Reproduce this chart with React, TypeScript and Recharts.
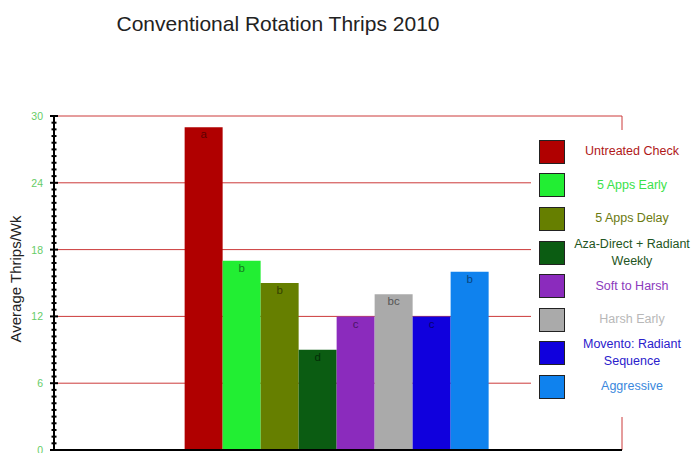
import React from "react"
import {
  BarChart,
  Bar,
  XAxis,
  YAxis,
  CartesianGrid,
  Legend,
  LabelList,
} from "recharts"

// treatments, weekly thrips counts and mean-separation letters
const treatments = [
  "Untreated Check",
  "5 Apps Early",
  "5 Apps Delay",
  "Aza-Direct + Radiant\nWeekly",
  "Soft to Harsh",
  "Harsh Early",
  "Movento: Radiant\nSequence",
  "Aggressive",
]
const thripsPerWeek = [29, 17, 15, 9, 12, 14, 12, 16]
const letters = ["a", "b", "b", "d", "c", "bc", "c", "b"]
const majorTicks = [0, 6, 12, 18, 24, 30]
const minorStep = 0.6

const barColors = ["#b00000", "#22ee33", "#667f00", "#0b5c12", "#8b2bbd", "#aaaaaa", "#1000dd", "#0f82ee"]
const letterColors = ["#5e0000", "#127a1c", "#333f00", "#032d06", "#4a1568", "#555555", "#07006e", "#07447c"]
const legendTextColors = ["#b01818", "#3be24a", "#6b7a10", "#1e5522", "#8b3bbd", "#b8b8b8", "#2a20cc", "#3a88dd"]

const keys = treatments.map((_, i) => `t${i}`)
const row: Record<string, string | number> = { name: "2010" }
keys.forEach((k, i) => {
  row[k] = thripsPerWeek[i]
})
const chartData = [row]

const yTicks = Array.from({ length: Math.round(30 / minorStep) + 1 }, (_, i) => Math.round(i * minorStep * 10) / 10)

const FONT = "'Liberation Sans', Arial, sans-serif"

function YTick(props: any) {
  const { x, y, payload } = props
  const major = majorTicks.includes(payload.value)
  const half = major ? 4 : 2.5
  return (
    <g>
      <line x1={x - half} x2={x + half} y1={y} y2={y} stroke="#000" strokeWidth={2} />
      {major && (
        <text x={x - 11} y={y} dy={4} textAnchor="end" fill="#66cc66" fontSize={10.5} fontFamily={FONT}>
          {payload.value}
        </text>
      )}
    </g>
  )
}

function YLabel(props: any) {
  const { viewBox } = props
  const cx = viewBox.x + 15
  const cy = viewBox.y + viewBox.height / 2 - 4
  return (
    <text
      x={cx}
      y={cy}
      transform={`rotate(-90, ${cx}, ${cy})`}
      textAnchor="middle"
      dominantBaseline="central"
      fontSize={15}
      fill="#222"
      fontFamily={FONT}
    >
      Average Thrips/Wk
    </text>
  )
}

// legend keeps the series order rather than sorting by name
function LegendBox() {
  return (
    <div style={{ background: "#fff", padding: "5px 0 13px 8px", fontFamily: FONT }}>
      {treatments.map((name, i) => (
        <div key={name} style={{ display: "flex", alignItems: "center", height: 33.6 }}>
          <div
            style={{
              width: 24,
              height: 22,
              background: barColors[i],
              border: "1px solid #222",
              flexShrink: 0,
            }}
          />
          <div
            style={{
              marginLeft: 6,
              width: 122,
              textAlign: "center",
              fontSize: 12.5,
              lineHeight: "17px",
              whiteSpace: "pre-line",
              color: legendTextColors[i],
            }}
          >
            {name}
          </div>
        </div>
      ))}
    </div>
  )
}

export default function App() {
  return (
    <div style={{ position: "absolute", left: 0, top: 0, width: 693, height: 453, background: "#fff" }}>
      <div
        style={{
          position: "absolute",
          left: 0,
          top: 12,
          width: 556,
          textAlign: "center",
          fontFamily: FONT,
          fontSize: 21,
          lineHeight: "24px",
          color: "#222",
        }}
      >
        Conventional Rotation Thrips 2010
      </div>
      <div style={{ position: "absolute", left: 0, top: 0 }}>
        <BarChart
          width={693}
          height={453}
          data={chartData}
          margin={{ top: 116, right: 71, bottom: 2, left: 0 }}
          barCategoryGap="23%"
          barGap={0}
        >
          <CartesianGrid
            horizontalValues={[6, 12, 18, 24, 30]}
            verticalCoordinatesGenerator={({ offset }: any) => [offset.left + offset.width]}
            stroke="#cc3a3a"
          />
          <YAxis
            domain={[0, 30]}
            ticks={yTicks}
            interval={0}
            width={54}
            tickSize={0}
            tickMargin={0}
            tickLine={false}
            tick={<YTick />}
            axisLine={{ stroke: "#000", strokeWidth: 2 }}
            label={<YLabel />}
          />
          <Legend
            layout="vertical"
            align="center"
            verticalAlign="middle"
            wrapperStyle={{ left: 531, top: 130, width: 162 }}
            content={<LegendBox />}
          />
          {keys.map((k, i) => (
            <Bar key={k} dataKey={k} name={treatments[i]} fill={barColors[i]} isAnimationActive={false}>
              <LabelList
                dataKey={k}
                position="insideTop"
                offset={3}
                formatter={() => letters[i]}
                fill={letterColors[i]}
                fontSize={11.5}
                fontFamily={FONT}
              />
            </Bar>
          ))}
          {/* baseline drawn after the bars so it sits on top of them */}
          <XAxis dataKey="name" tick={false} tickLine={false} height={1} axisLine={{ stroke: "#000", strokeWidth: 2 }} />
        </BarChart>
      </div>
    </div>
  )
}
